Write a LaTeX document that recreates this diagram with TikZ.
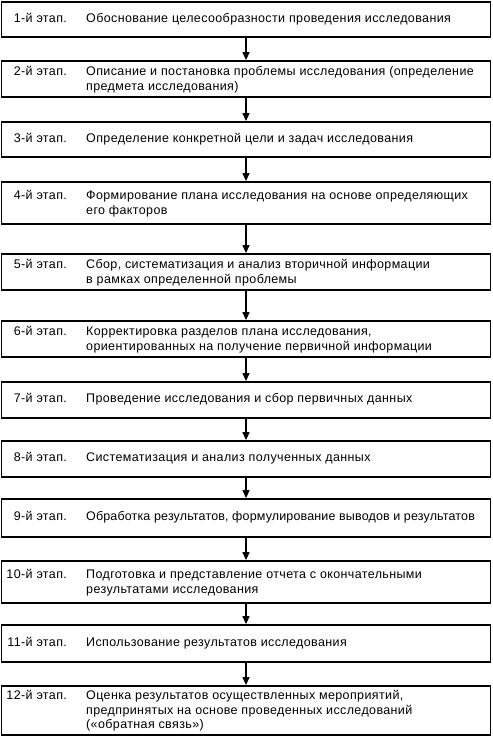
\documentclass[tikz,border=0pt]{standalone}
\usepackage{fontspec}
\setmainfont{Liberation Sans}[LetterSpace=3]
\usetikzlibrary{arrows.meta,positioning,calc}

\begin{document}
\begin{tikzpicture}[
  x=1pt, y=-1pt,
  > = {Triangle[width=7pt,length=8pt]},
  stagebox/.style = {draw, line width=1.8pt, minimum width=489pt, inner sep=0pt},
  stagenum/.style = {anchor=north east, inner sep=0pt, xshift=66.5pt, font=\fontsize{12.5}{14.5}\selectfont},
  stagetext/.style = {anchor=west, align=left, inner sep=0pt, font=\fontsize{12.5}{14.5}\selectfont},
  flow/.style = {->, line width=1.2pt}
  ]
  \useasboundingbox (0,0) rectangle (493,737);

  % frames of the stages
  \node[stagebox, minimum height=35pt] (b1)  at (246,19.5)  {};
  \node[stagebox, minimum height=36pt] (b2)  at (246,79)    {};
  \node[stagebox, minimum height=35pt] (b3)  at (246,139.5) {};
  \node[stagebox, minimum height=42pt] (b4)  at (246,203)   {};
  \node[stagebox, minimum height=36pt] (b5)  at (246,272)   {};
  \node[stagebox, minimum height=36pt] (b6)  at (246,339)   {};
  \node[stagebox, minimum height=36pt] (b7)  at (246,400)   {};
  \node[stagebox, minimum height=36pt] (b8)  at (246,459)   {};
  \node[stagebox, minimum height=38pt] (b9)  at (246,518)   {};
  \node[stagebox, minimum height=42pt] (b10) at (246,582)   {};
  \node[stagebox, minimum height=37pt] (b11) at (246,643.5) {};
  \node[stagebox, minimum height=49pt] (b12) at (246,710.5) {};

  % texts
  \node[stagetext] (t1)  at (86,19.5)  {\strut Обоснование целесообразности проведения исследования};
  \node[stagetext] (t2)  at (86,79)    {\strut Описание и постановка проблемы исследования (определение\\предмета исследования)};
  \node[stagetext] (t3)  at (86,139.5) {\strut Определение конкретной цели и задач исследования};
  \node[stagetext] (t4)  at (86,203)   {\strut Формирование плана исследования на основе определяющих\\его факторов};
  \node[stagetext] (t5)  at (86,272)   {\strut Сбор, систематизация и анализ вторичной информации\\в рамках определенной проблемы};
  \node[stagetext] (t6)  at (86,339)   {\strut Корректировка разделов плана исследования,\\ориентированных на получение первичной информации};
  \node[stagetext] (t7)  at (86,400)   {\strut Проведение исследования и сбор первичных данных};
  \node[stagetext] (t8)  at (86,459)   {\strut Систематизация и анализ полученных данных};
  \node[stagetext] (t9)  at (86,518)   {\addfontfeature{LetterSpace=1.2}\strut Обработка результатов, формулирование выводов и результатов};
  \node[stagetext] (t10) at (86,582)   {\strut Подготовка и представление отчета с окончательными\\результатами исследования};
  \node[stagetext] (t11) at (86,643.5) {\strut Использование результатов исследования};
  \node[stagetext] (t12) at (86,710.5) {\strut Оценка результатов осуществленных мероприятий,\\предпринятых на основе проведенных исследований\\(«обратная связь»)};

  % stage numbers
  \node[stagenum] (n1)  at (t1.north -| b1.west)   {\strut 1-й этап.};
  \node[stagenum] (n2)  at (t2.north -| b2.west)   {\strut 2-й этап.};
  \node[stagenum] (n3)  at (t3.north -| b3.west)   {\strut 3-й этап.};
  \node[stagenum] (n4)  at (t4.north -| b4.west)   {\strut 4-й этап.};
  \node[stagenum] (n5)  at (t5.north -| b5.west)   {\strut 5-й этап.};
  \node[stagenum] (n6)  at (t6.north -| b6.west)   {\strut 6-й этап.};
  \node[stagenum] (n7)  at (t7.north -| b7.west)   {\strut 7-й этап.};
  \node[stagenum] (n8)  at (t8.north -| b8.west)   {\strut 8-й этап.};
  \node[stagenum] (n9)  at (t9.north -| b9.west)   {\strut 9-й этап.};
  \node[stagenum] (n10) at (t10.north -| b10.west) {\strut 10-й этап.};
  \node[stagenum] (n11) at (t11.north -| b11.west) {\strut 11-й этап.};
  \node[stagenum] (n12) at (t12.north -| b12.west) {\strut 12-й этап.};

  % arrows between the stages
  \draw[flow] (b1) -- (b2);
  \draw[flow] (b2) -- (b3);
  \draw[flow] (b3) -- (b4);
  \draw[flow] (b4) -- (b5);
  \draw[flow] (b5) -- (b6);
  \draw[flow] (b6) -- (b7);
  \draw[flow] (b7) -- (b8);
  \draw[flow] (b8) -- (b9);
  \draw[flow] (b9) -- (b10);
  \draw[flow] (b10) -- (b11);
  \draw[flow] (b11) -- (b12);

\end{tikzpicture}
\end{document}
